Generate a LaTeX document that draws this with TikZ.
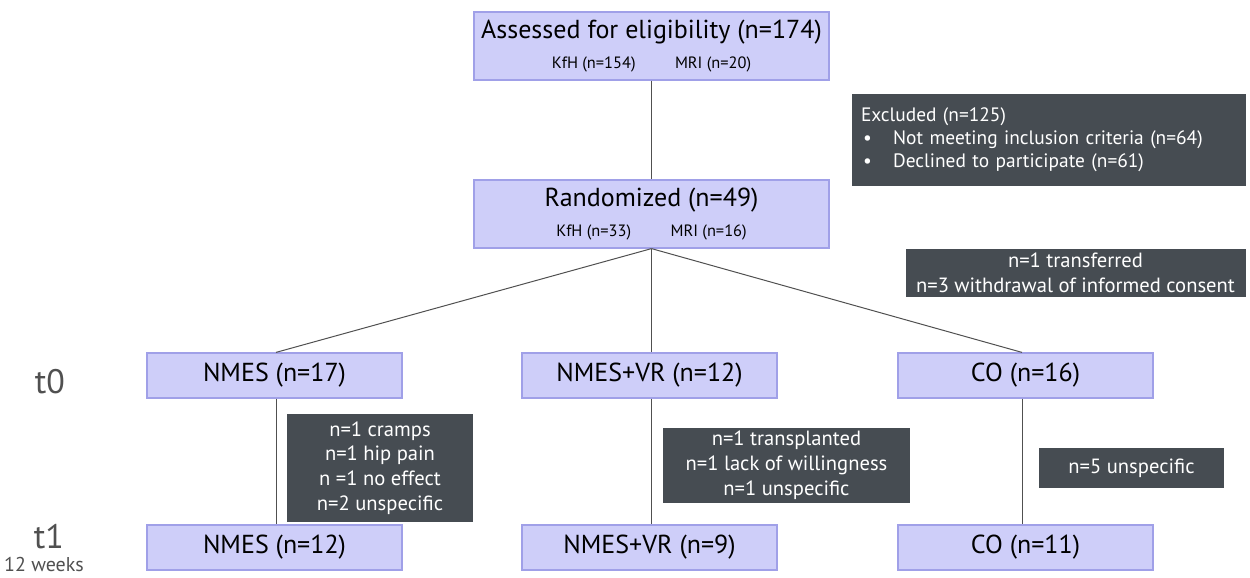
\documentclass[tikz,border=0pt]{standalone}
\usepackage{fontspec}
\setmainfont{PT Sans}
\definecolor{boxfill}{RGB}{206,206,249}
\definecolor{boxline}{RGB}{160,160,232}
\definecolor{darkbox}{RGB}{70,76,82}
\definecolor{linegray}{RGB}{80,80,80}
\begin{document}
\begin{tikzpicture}[x=0.5pt, y=-0.5pt,
  group/.style={draw=boxline, fill=boxfill, line width=0.6pt, inner sep=0pt,
    minimum width=127.5pt, minimum height=22.5pt, font=\fontsize{13}{15}\selectfont},
  head/.style={group, minimum width=177.5pt, minimum height=34pt, align=center},
  note/.style={fill=darkbox, text=white, inner sep=0pt, align=center,
    font=\fontsize{10.3}{12.4}\selectfont},
  conn/.style={draw=linegray, line width=0.5pt}]
\useasboundingbox (0,0) rectangle (1250,578);
\node[head](ass) at (651.5, 46) {{\fontsize{13}{15}\selectfont Assessed for eligibility (n=174)}\\[0pt]{\fontsize{8.2}{9}\selectfont KfH (n=154)\hspace{2.4em}MRI (n=20)}};
\node[head](rand) at (651.5, 214) {{\fontsize{13}{15}\selectfont Randomized (n=49)}\\[0pt]{\fontsize{8.2}{9}\selectfont KfH (n=33)\hspace{2.4em}MRI (n=16)}};
\node[note, align=left, minimum width=197pt, minimum height=46pt, text width=188pt, font=\fontsize{9.7}{11.6}\selectfont](excl) at (1049, 140) {Excluded (n=125)\\
  \hspace*{1pt}\textbullet\hspace{1.1em}Not meeting inclusion criteria (n=64)\\
  \hspace*{1pt}\textbullet\hspace{1.1em}Declined to participate (n=61)};
\node[note, minimum width=170pt, minimum height=24pt](trans) at (1075.5, 273) {n=1 transferred\\n=3 withdrawal of informed consent};
\node[group](nm0) at (274.5, 375.5) {NMES (n=17)};
\node[group](vr0) at (649.5, 375.5) {NMES+VR (n=12)};
\node[group](co0) at (1025.5, 375.5) {CO (n=16)};
\node[group](nm1) at (274.5, 547.5) {NMES (n=12)};
\node[group](vr1) at (649.5, 547.5) {NMES+VR (n=9)};
\node[group](co1) at (1025.5, 547.5) {CO (n=11)};
\node[note, minimum width=93pt, minimum height=54pt](nmd) at (380, 468) {n=1 cramps\\n=1 hip pain\\n =1 no effect\\n=2 unspecific};
\node[note, minimum width=123.5pt, minimum height=37.5pt](vrd) at (786.5, 465.5) {n=1 transplanted\\n=1 lack of willingness\\n=1 unspecific};
\node[note, minimum width=92.5pt, minimum height=20pt](cod) at (1131.5, 468) {n=5 unspecific};
\node[font=\fontsize{17}{19}\selectfont, text=linegray](t0) at (50, 382) {t0};
\node[font=\fontsize{17}{19}\selectfont, text=linegray](t1) at (49, 537) {t1};
\node[font=\fontsize{10}{11}\selectfont, text=linegray](wk) at (44, 564) {12 weeks};
\draw[conn] (ass) -- (rand);
\draw[conn] (rand.south) -- (nm0.north -| 276,0);
\draw[conn] (rand.south) -- (vr0.north -| rand.south);
\draw[conn] (rand.south) -- (co0.north -| 1022,0);
\draw[conn] (nm0.south -| 276,0) -- (nm1.north -| 276,0);
\draw[conn] (vr0.south -| 651,0) -- (vr1.north -| 651,0);
\draw[conn] (co0.south -| 1022,0) -- (co1.north -| 1022,0);
\end{tikzpicture}
\end{document}
